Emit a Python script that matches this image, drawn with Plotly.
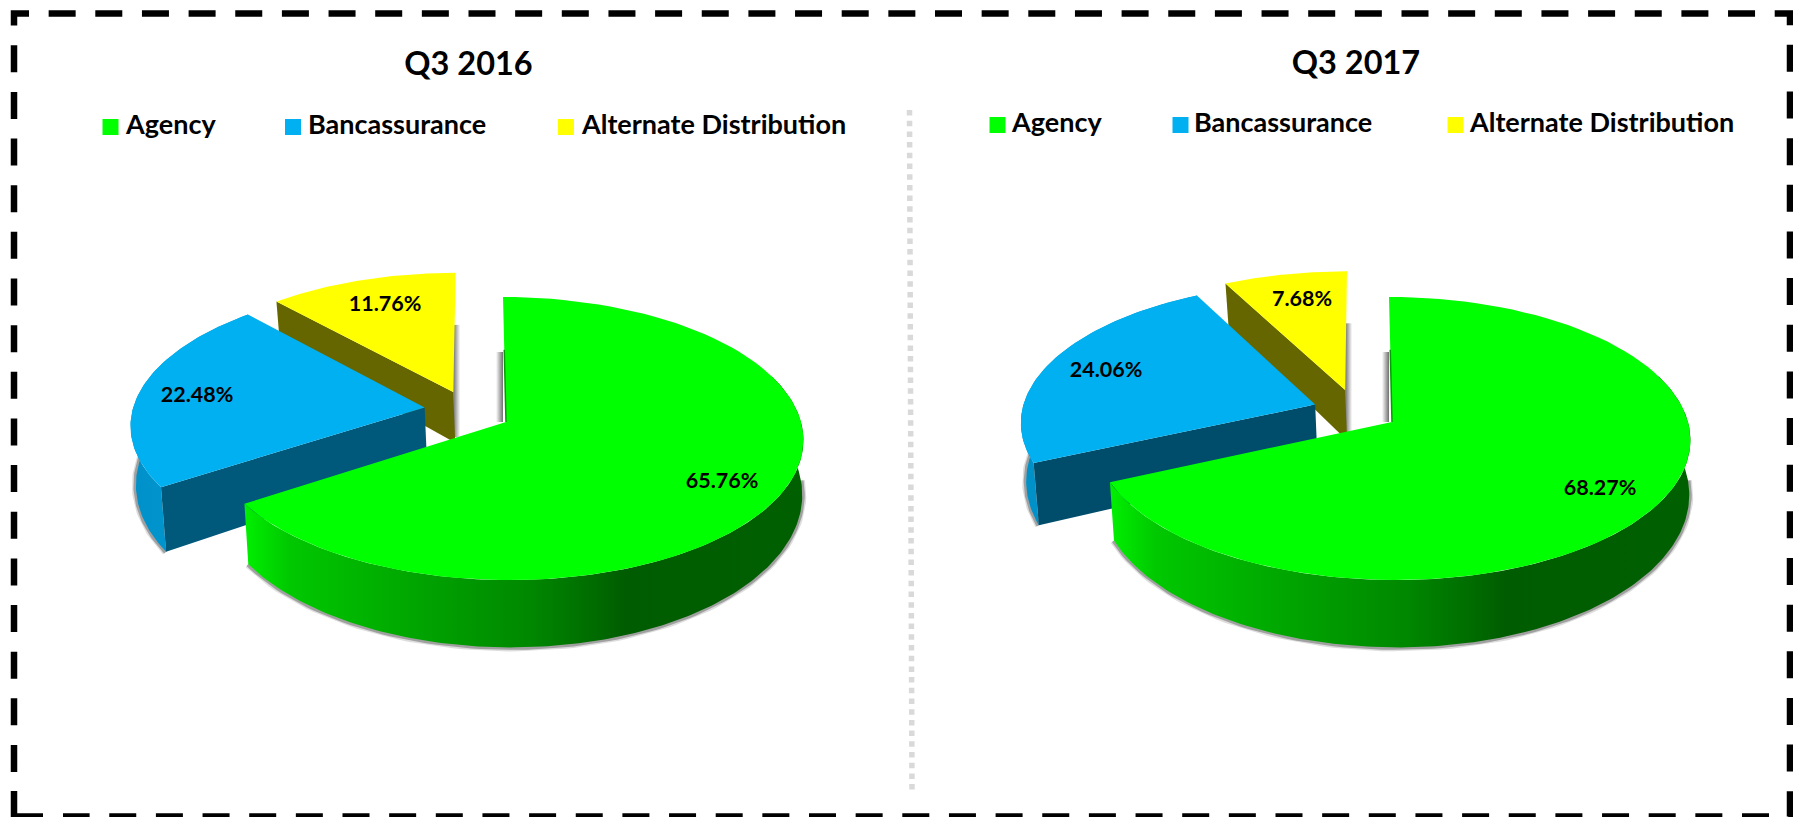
import math
import plotly.graph_objects as go

CATEGORIES = ["Agency", "Bancassurance", "Alternate Distribution"]
Q3_2016 = [65.76, 22.48, 11.76]
Q3_2017 = [68.27, 24.06, 7.68]
TITLES = ["Q3 2016", "Q3 2017"]
COLORS = ["#00ff00", "#00b0f0", "#ffff00"]

W, H = 1793, 817
FONT_T = "Lato"

PIE_2016 = dict(cx=506, cy=422, rx=295, ry=139.6, k=0.1167, h=53.2, shear=0.024,
                blue=(-0.278, -0.106), yellow=(-0.181, -0.2205), face="#00587a",
                labels=[(722, 483), (197, 397), (385, 306)], title=(468.5, 67),
                sq=[(110.5, 127), (293, 127), (566, 127)], txt=[126, 308, 582])
PIE_2017 = dict(cx=1392, cy=422, rx=296, ry=139.6, k=0.1167, h=53.2, shear=0.024,
                blue=(-0.262, -0.127), yellow=(-0.160, -0.2353), face="#004d6b",
                labels=[(1600, 490), (1106, 372), (1302, 301)], title=(1356, 66),
                sq=[(997.5, 125), (1180.5, 125), (1455.5, 125)], txt=[1012, 1194, 1470])

fig = go.Figure()


def poly(xs, ys, color=None, grad=None):
    kw = dict(fillgradient=dict(type="horizontal", colorscale=grad)) if grad else dict(fillcolor=color)
    fig.add_trace(go.Scatter(x=xs, y=ys, mode="lines", fill="toself", line=dict(width=0),
                             hoverinfo="skip", showlegend=False, **kw))


def line(xs, ys, color, width, dash=None):
    fig.add_trace(go.Scatter(x=xs, y=ys, mode="lines", hoverinfo="skip", showlegend=False,
                             line=dict(color=color, width=width, dash=dash)))


def text(x, y, s, size, family, pos="middle center"):
    fig.add_trace(go.Scatter(x=[x], y=[y], mode="text", text=[s], textposition=pos, hoverinfo="skip",
                             showlegend=False,
                             textfont=dict(family=family, size=size, color="#000000", weight=700)))


def draw_pie(values, title, p):
    def proj(u, v, dz=0.0):
        den = 1 - p["k"] * v
        X = u * p["rx"] / den
        Y = v * p["ry"] / den
        return (p["cx"] + X * (1 - 0.009 * dz) + 1.5 * dz + p["shear"] * Y,
                p["cy"] + Y + dz * p["h"] / den ** 1.9)

    def rim(a0, a1, off, dz=0.0, n=90):
        pts = []
        for i in range(n + 1):
            t = math.radians(a0 + (a1 - a0) * i / n)
            pts.append(proj(math.sin(t) + off[0], -math.cos(t) + off[1], dz))
        return pts

    def top(a0, a1, off):
        pts = [proj(off[0], off[1])] + rim(a0, a1, off)
        return [q[0] for q in pts], [q[1] for q in pts]

    def face(a, off, dz=1.0):
        c = rim(a, a, off, n=1)[0]
        c2 = rim(a, a, off, dz, n=1)[0]
        o = proj(off[0], off[1])
        o2 = proj(off[0], off[1], dz)
        return [o[0], c[0], c2[0], o2[0]], [o[1], c[1], c2[1], o2[1]]

    a_g = values[0] * 3.6
    a_b = (values[0] + values[1]) * 3.6
    off0 = (0, 0)
    BLUE_DZ = 1.1

    # soft shadows
    ox, oy = proj(*p["yellow"])
    tx, ty = rim(360, 360, p["yellow"], n=1)[0]
    sy0 = ty + 52
    gs = [[0, "#707070"], [1, "#ffffff"]]
    poly([ox, ox + 7, ox + 7, ox], [sy0, sy0, oy + 45, oy + 45], grad=gs)
    gx, gy = proj(0, 0)
    sy1 = gy - 70
    poly([gx - 3, gx - 10, gx - 10, gx - 3], [sy1, sy1, gy, gy], grad=[[0, "#ffffff"], [1, "#707070"]])

    # yellow
    fx, fy = face(a_b, p["yellow"])
    poly(fx, fy, "#666600")
    xs, ys = top(a_b, 360, p["yellow"])
    poly(xs, ys, COLORS[2])

    # blue
    r = rim(a_g, 285, p["blue"], BLUE_DZ)
    for w, c in ((8, "rgba(120,120,120,0.25)"), (5, "rgba(110,110,110,0.55)")):
        line([q[0] for q in r], [q[1] for q in r], c, w)
    r0 = rim(a_g, a_b, p["blue"])
    r1 = rim(a_g, a_b, p["blue"], BLUE_DZ)
    poly([q[0] for q in r0] + [q[0] for q in reversed(r1)], [q[1] for q in r0] + [q[1] for q in reversed(r1)],
         grad=[[0, "#0090c8"], [1, "#00a0dc"]])
    fx, fy = face(a_g, p["blue"], BLUE_DZ)
    poly(fx, fy, p["face"])
    xs, ys = top(a_g, a_b, p["blue"])
    poly(xs, ys, COLORS[1])

    # green
    r = rim(92, a_g, off0, 1.0)
    for w, c in ((8, "rgba(120,120,120,0.25)"), (5, "rgba(110,110,110,0.55)")):
        line([q[0] for q in r], [q[1] for q in r], c, w)
    r0 = rim(70, a_g, off0, n=180)
    r1 = rim(70, a_g, off0, 1.0, n=180)
    poly([q[0] for q in r0] + [q[0] for q in reversed(r1)], [q[1] for q in r0] + [q[1] for q in reversed(r1)],
         grad=[[0, "#00f000"], [0.08, "#00c800"], [0.34, "#00a000"], [0.51, "#008800"],
               [0.64, "#006800"], [0.68, "#005c00"], [1, "#006000"]])
    xs, ys = top(0, a_g, off0)
    poly(xs, ys, COLORS[0])
    t0 = proj(0, -0.55)
    line([t0[0], gx], [t0[1], gy], "#00a000", 1.5)

    for v, (lx, ly) in zip(values, p["labels"]):
        text(lx, ly, f"{v:.2f}%", 21.5, FONT_T)
    text(p["title"][0], p["title"][1], title, 32.5, FONT_T)
    for cat, col, (sx, sy), tx0 in zip(CATEGORIES, COLORS, p["sq"], p["txt"]):
        fig.add_trace(go.Scatter(x=[sx], y=[sy], mode="markers", hoverinfo="skip", showlegend=False,
                                 marker=dict(symbol="square", size=16, color=col, line=dict(width=0))))
        text(tx0, sy, cat, 27, FONT_T, "middle right")


draw_pie(Q3_2016, TITLES[0], PIE_2016)
draw_pie(Q3_2017, TITLES[1], PIE_2017)

# divider
line([909.5, 912], [110, 790], "#d9d9d9", 5.5, "5.5px,5.2px")
# dashed frame: top and right, bottom, left, bottom-left corner
DASH = "27px,19.65px"
line([14, 14, 1790, 1790, 1788], [25.5, 13.5, 13.5, 816.5, 816.5], "#000000", 6.5, DASH)
line([1769, 63], [816.5, 816.5], "#000000", 6.5, DASH)
line([14, 14], [772, 45], "#000000", 6.5, DASH)
line([14, 14, 43], [791, 816.5, 816.5], "#000000", 6.5)

fig.update_layout(
    width=W, height=H, margin=dict(l=0, r=0, t=0, b=0), paper_bgcolor="#ffffff", plot_bgcolor="#ffffff",
    xaxis=dict(range=[0, W], visible=False, fixedrange=True),
    yaxis=dict(range=[H, 0], visible=False, fixedrange=True),
    showlegend=False,
)
fig.write_html("out.html", config=dict(displayModeBar=False),
               post_script="document.body.style.margin='0';document.body.style.overflow='hidden';")
